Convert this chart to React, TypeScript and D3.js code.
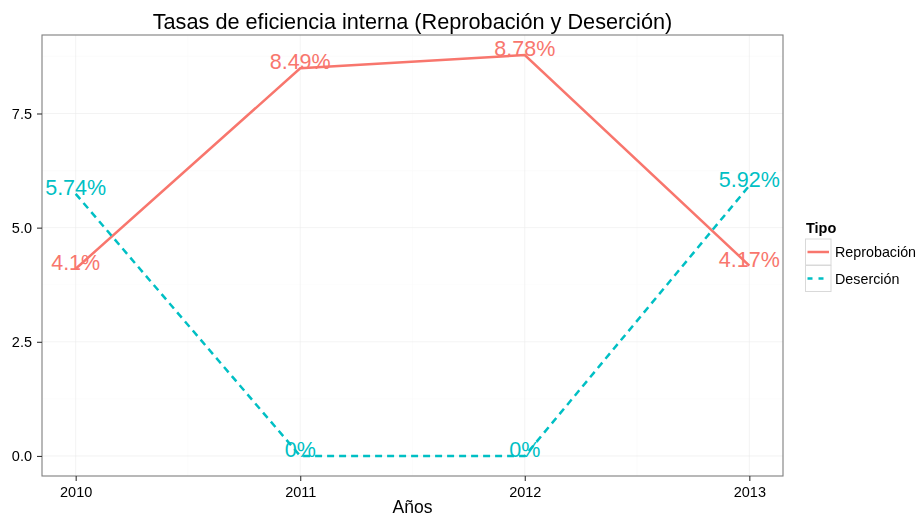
import React, { useEffect, useRef } from 'react';
import * as d3 from 'd3';

const years = [2010, 2011, 2012, 2013];
const reprobacion = [4.1, 8.49, 8.78, 4.17];
const desercion = [5.74, 0, 0, 5.92];
const yTicks = [0, 2.5, 5, 7.5];
const seriesNames = ['Reprobación', 'Deserción'];
const seriesColors = ['#F8766D', '#00BFC4'];

const App = () => {
  const ref = useRef<SVGSVGElement>(null);

  useEffect(() => {
    const width = 917;
    const height = 520;
    const margin = { top: 35, right: 134, bottom: 44, left: 42 };
    const font = 'Liberation Sans, Arial, sans-serif';

    const svg = d3.select(ref.current);
    svg.selectAll('*').remove();
    svg.attr('width', width).attr('height', height).style('font-family', font);

    const x = d3.scaleLinear().domain([2009.85, 2013.15]).range([margin.left, width - margin.right]);
    const yMax = 8.78;
    const pad = yMax * 0.05;
    const y = d3.scaleLinear().domain([-pad, yMax + pad]).range([height - margin.bottom, margin.top]);

    const pl = margin.left;
    const pr = width - margin.right;
    const pt = margin.top;
    const pb = height - margin.bottom;

    svg.append('rect').attr('x', pl).attr('y', pt).attr('width', pr - pl).attr('height', pb - pt).attr('fill', '#fff');

    // minor grid
    const minorX = d3.range(2010.5, 2013, 1);
    const minorY = [1.25, 3.75, 6.25, 8.75];
    const grid = svg.append('g');
    minorX.forEach((v) => grid.append('line').attr('x1', x(v)).attr('x2', x(v)).attr('y1', pt).attr('y2', pb).attr('stroke', '#fafafa').attr('stroke-width', 0.6));
    minorY.forEach((v) => grid.append('line').attr('x1', pl).attr('x2', pr).attr('y1', y(v)).attr('y2', y(v)).attr('stroke', '#fafafa').attr('stroke-width', 0.6));
    years.forEach((v) => grid.append('line').attr('x1', x(v)).attr('x2', x(v)).attr('y1', pt).attr('y2', pb).attr('stroke', '#ebebeb').attr('stroke-width', 0.6));
    yTicks.forEach((v) => grid.append('line').attr('x1', pl).attr('x2', pr).attr('y1', y(v)).attr('y2', y(v)).attr('stroke', '#ebebeb').attr('stroke-width', 0.6));

    const line = d3.line<number>().x((d, i) => x(years[i])).y((d) => y(d));
    const data = [reprobacion, desercion];

    data.forEach((vals, k) => {
      svg.append('path')
        .datum(vals)
        .attr('d', line)
        .attr('fill', 'none')
        .attr('stroke', seriesColors[k])
        .attr('stroke-width', 2.5)
        .attr('stroke-dasharray', k === 1 ? '7,5' : null);
    });

    data.forEach((vals, k) => {
      svg.append('g').selectAll('text')
        .data(vals)
        .join('text')
        .attr('x', (d, i) => x(years[i]))
        .attr('y', (d) => y(d))
        .attr('dy', 1)
        .attr('text-anchor', 'middle')
        .attr('font-size', 21.5)
        .attr('fill', seriesColors[k])
        .text((d) => `${d}%`);
    });

    svg.append('rect').attr('x', pl).attr('y', pt).attr('width', pr - pl).attr('height', pb - pt)
      .attr('fill', 'none').attr('stroke', '#7f7f7f').attr('stroke-width', 1.1);

    // axes
    const xAxis = svg.append('g').attr('transform', `translate(0,${pb})`)
      .call(d3.axisBottom(x).tickValues(years).tickFormat(d3.format('d')).tickSize(5).tickPadding(6));
    const yAxis = svg.append('g').attr('transform', `translate(${pl},0)`)
      .call(d3.axisLeft(y).tickValues(yTicks).tickFormat(d3.format('.1f')).tickSize(5).tickPadding(5));
    [xAxis, yAxis].forEach((a) => {
      a.select('.domain').remove();
      a.selectAll('line').attr('stroke', '#333').attr('stroke-width', 1.1);
      a.selectAll('text').attr('font-size', 14.5).attr('fill', '#000').style('font-family', font);
    });

    svg.append('text').attr('x', (pl + pr) / 2).attr('y', 513).attr('text-anchor', 'middle')
      .attr('font-size', 17.5).text('Años');

    svg.append('text').attr('x', (pl + pr) / 2).attr('y', 29).attr('text-anchor', 'middle')
      .attr('font-size', 21.7).text('Tasas de eficiencia interna (Reprobación y Deserción)');

    // legend
    const lg = svg.append('g').attr('transform', 'translate(805,0)');
    lg.append('text').attr('x', 1).attr('y', 233).attr('font-size', 14.5).attr('font-weight', 'bold').text('Tipo');
    seriesNames.forEach((name, k) => {
      const top = 239 + k * 26.5;
      lg.append('rect').attr('x', 0.5).attr('y', top).attr('width', 25.5).attr('height', 26)
        .attr('fill', '#fff').attr('stroke', '#d9d9d9').attr('stroke-width', 1);
      lg.append('line').attr('x1', 2.5).attr('x2', 24).attr('y1', top + 13).attr('y2', top + 13)
        .attr('stroke', seriesColors[k]).attr('stroke-width', 2.5)
        .attr('stroke-dasharray', k === 1 ? '5,6' : null);
      lg.append('text').attr('x', 30).attr('y', top + 13).attr('dy', '0.35em').attr('font-size', 14.3).text(name);
    });
  }, []);

  return <svg ref={ref} style={{ display: 'block', position: 'fixed', left: 0, top: 0 }} />;
};

export default App;
